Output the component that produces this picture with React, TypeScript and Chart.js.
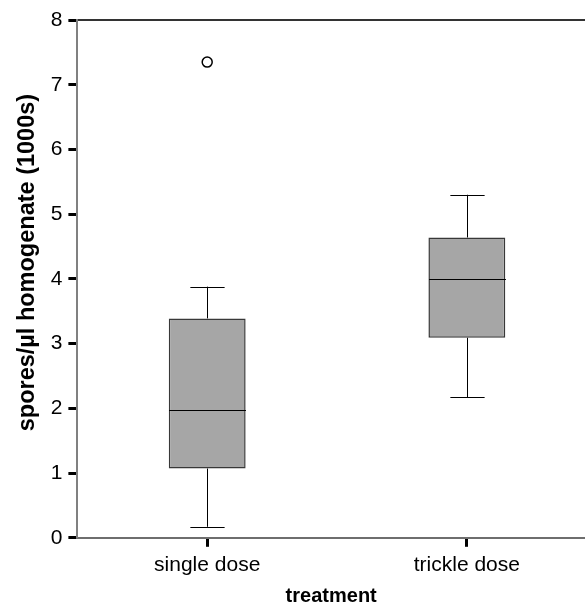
import React, { useEffect, useRef } from "react";
import { Chart, registerables } from "chart.js";

Chart.register(...registerables);

const categories = ["single dose", "trickle dose"];
const positions = [1, 2];
const whiskerLow = [0.17, 2.17];
const q1 = [1.07, 3.09];
const median = [1.98, 4.0];
const q3 = [3.39, 4.64];
const whiskerHigh = [3.88, 5.3];
const outliers = [{ x: 1, y: 7.35 }];
const yTicks = [0, 1, 2, 3, 4, 5, 6, 7, 8];

const FONT = "'Liberation Sans', Arial, Helvetica, sans-serif";

const whiskerPlugin = {
  id: "whiskers",
  afterDatasetsDraw(chart: any) {
    const { ctx } = chart;
    const xs = chart.scales.x;
    const ys = chart.scales.y;
    const boxHalf = xs.getPixelForValue(1.148) - xs.getPixelForValue(1);
    const capHalf = xs.getPixelForValue(1.066) - xs.getPixelForValue(1);
    ctx.save();
    ctx.strokeStyle = "#000";
    ctx.lineWidth = 1;
    positions.forEach((p, i) => {
      const cx = Math.round(xs.getPixelForValue(p)) + 0.5;
      const yLo = ys.getPixelForValue(whiskerLow[i]);
      const yQ1 = ys.getPixelForValue(q1[i]);
      const yQ3 = ys.getPixelForValue(q3[i]);
      const yHi = ys.getPixelForValue(whiskerHigh[i]);
      const yMed = Math.round(ys.getPixelForValue(median[i])) + 0.5;
      ctx.beginPath();
      ctx.moveTo(cx, yQ1);
      ctx.lineTo(cx, yLo);
      ctx.moveTo(cx - capHalf, Math.round(yLo) + 0.5);
      ctx.lineTo(cx + capHalf, Math.round(yLo) + 0.5);
      ctx.moveTo(cx, yQ3);
      ctx.lineTo(cx, yHi);
      ctx.moveTo(cx - capHalf, Math.round(yHi) + 0.5);
      ctx.lineTo(cx + capHalf, Math.round(yHi) + 0.5);
      ctx.stroke();
      ctx.beginPath();
      ctx.moveTo(cx - boxHalf, yMed);
      ctx.lineTo(cx + boxHalf, yMed);
      ctx.stroke();
    });
    ctx.restore();
  },
};

export default function App() {
  const ref = useRef<HTMLCanvasElement | null>(null);

  useEffect(() => {
    document.body.style.margin = "0";
    if (!ref.current) return;
    const chart = new Chart(ref.current, {
      type: "bar",
      data: {
        datasets: [
          {
            type: "bar",
            data: positions.map((p, i) => ({ x: p, y: [q1[i], q3[i]] })) as any,
            backgroundColor: "#a6a6a6",
            borderColor: "#383838",
            borderWidth: 1.5,
            borderSkipped: false,
            categoryPercentage: 1,
            barPercentage: 0.296,
            order: 2,
          } as any,
          {
            type: "scatter",
            data: outliers as any,
            pointStyle: "circle",
            pointRadius: 5,
            pointBorderWidth: 1.5,
            pointBorderColor: "#000",
            pointBackgroundColor: "#fff",
            order: 1,
          } as any,
        ],
      },
      options: {
        responsive: false,
        animation: false,
        layout: { autoPadding: false, padding: { top: 20, right: 0, left: 0, bottom: 0 } },
        plugins: { legend: { display: false }, tooltip: { enabled: false } },
        scales: {
          x: {
            type: "linear",
            position: "bottom",
            offset: false,
            min: 0.5,
            max: 2.455,
            afterBuildTicks: (axis: any) => {
              axis.ticks = positions.map((v) => ({ value: v }));
            },
            ticks: {
              autoSkip: false,
              maxRotation: 0,
              padding: 6,
              color: "#000",
              font: { family: FONT, size: 21 },
              callback: (v: any) => {
                const i = positions.indexOf(Number(v));
                return i >= 0 ? categories[i] : "";
              },
            },
            grid: {
              display: true,
              offset: false,
              drawOnChartArea: false,
              drawTicks: true,
              tickLength: 9,
              tickWidth: 3,
              tickColor: "#000",
            },
            border: { display: true, color: "#6e6e6e", width: 2 },
            title: {
              display: true,
              text: "treatment",
              color: "#000",
              font: { family: FONT, size: 20, weight: "bold" },
              padding: { top: 0, bottom: 0 },
            },
          },
          x2: {
            type: "linear",
            position: "top",
            display: true,
            offset: false,
            min: 0.5,
            max: 2.455,
            ticks: { display: false },
            grid: { display: false, drawTicks: false },
            border: { display: true, color: "#333333", width: 2 },
          },
          y: {
            type: "linear",
            min: 0,
            max: 8,
            afterBuildTicks: (axis: any) => {
              axis.ticks = yTicks.map((v) => ({ value: v }));
            },
            ticks: {
              padding: 6,
              color: "#000",
              font: { family: FONT, size: 21 },
            },
            grid: {
              display: true,
              drawOnChartArea: false,
              drawTicks: true,
              tickLength: 9,
              tickWidth: 3,
              tickColor: "#000",
            },
            border: { display: true, color: "#808080", width: 2 },
            title: {
              display: true,
              text: "     spores/µl homogenate (1000s)",
              color: "#000",
              font: { family: FONT, size: 23.5, weight: "bold" },
              padding: { top: 13, bottom: 3.5 },
            },
          },
        },
      },
      plugins: [whiskerPlugin],
    });
    return () => chart.destroy();
  }, []);

  return (
    <div style={{ width: 585, height: 608 }}>
      <canvas ref={ref} width={585} height={608} style={{ display: "block" }} />
    </div>
  );
}
